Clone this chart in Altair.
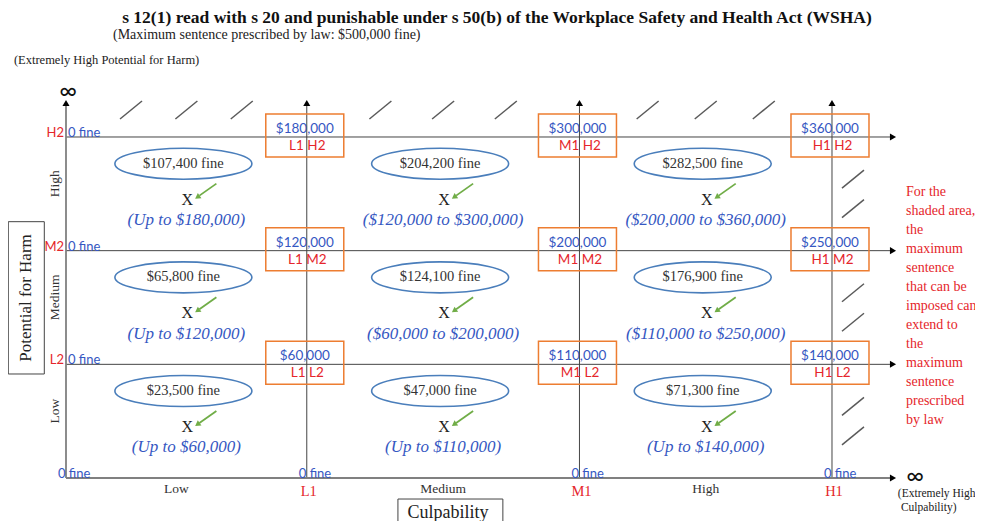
import altair as alt
import pandas as pd

# ------------------------------------------------------------------ data
culp_levels = ["Low", "Medium", "High"]
culp_marks = ["L1", "M1", "H1"]
harm_levels = ["Low", "Medium", "High"]          # bottom to top
harm_marks = ["L2", "M2", "H2"]

# rows = harm (Low, Medium, High), columns = culpability (Low, Medium, High)
indicative_fines = [
    [23500, 47000, 71300],
    [65800, 124100, 176900],
    [107400, 204200, 282500],
]
range_low = [
    [0, 0, 0],
    [0, 60000, 110000],
    [0, 120000, 200000],
]
range_high = [
    [60000, 110000, 140000],
    [120000, 200000, 250000],
    [180000, 300000, 360000],
]
box_tags = [
    ["L1  L2", "M1 L2", "H1 L2"],
    ["L1  M2", "M1  M2", "H1  M2"],
    ["L1  H2", "M1  H2", "H1  H2"],
]
title_text = "s 12(1) read with s 20 and punishable under s 50(b) of the Workplace Safety and Health Act (WSHA)"
subtitle_text = "(Maximum sentence prescribed by law: $500,000 fine)"
top_note = "(Extremely High Potential for Harm)"
corner_note = ["(Extremely High", "Culpability)"]
note_lines = ["For the", "shaded area,", "the", "maximum", "sentence", "that can be",
              "imposed can", "extend to", "the", "maximum", "sentence", "prescribed", "by law"]

# ------------------------------------------------------------------ layout
W, H = 967, 513
OX, OY = 58, 470          # origin of the grid inside the view (px)
U, V = 255.33, 113.67     # px per grid unit
culp_pos = [0.0, 0.943, 2.011, 3.0]   # origin, L1, M1, H1
harm_pos = [0.0, 1.0, 2.0, 3.0]       # origin, L2, M2, H2


def du(p):
    return p / U


def dv(p):
    return p / V


TOP = dv(OY - 95)
RIGHT = du(885 - OX)

xs = alt.Scale(domain=[-OX / U, (W - OX) / U], nice=False, zero=False)
ys = alt.Scale(domain=[-(H - OY) / V, OY / V], nice=False, zero=False)

SERIF = "Liberation Serif"
SANS = "Lato"
BLUE = "#3557C2"
RED = "#E5262B"
ORANGE = "#ED7D31"
GREEN = "#70AD47"


def XQ(f="x"):
    return alt.X(f, type="quantitative", scale=xs, axis=None)


def YQ(f="y"):
    return alt.Y(f, type="quantitative", scale=ys, axis=None)


def text(rows, **mk):
    df = pd.DataFrame(rows, columns=["x", "y", "text"])
    return alt.Chart(df).mark_text(**mk).encode(x=XQ(), y=YQ(), text="text:N")


def rules(rows, **mk):
    df = pd.DataFrame(rows, columns=["x", "x2", "y", "y2"])
    return alt.Chart(df).mark_rule(**mk).encode(x=XQ(), x2="x2", y=YQ(), y2="y2")


def rects(rows, **mk):
    df = pd.DataFrame(rows, columns=["x", "x2", "y", "y2"])
    return alt.Chart(df).mark_rect(**mk).encode(x=XQ(), x2="x2", y=YQ(), y2="y2")


def points(rows, **mk):
    df = pd.DataFrame(rows, columns=["x", "y"])
    return alt.Chart(df).mark_point(**mk).encode(x=XQ(), y=YQ())


layers = []

# shading hatches
hatch = []
for c in range(3):
    a, b = culp_pos[c], culp_pos[c + 1]
    for f in (0.27, 0.5, 0.73):
        cx, cy = a + f * (b - a), dv(OY - 102)
        hatch.append((cx - du(11), cx + du(11), cy - dv(9), cy + dv(9)))
for k in range(3):
    for f in (0.37, 0.63):
        cx, cy = culp_pos[3] + du(21), harm_pos[k] + f * (harm_pos[k + 1] - harm_pos[k])
        hatch.append((cx - du(11), cx + du(11), cy - dv(9), cy + dv(9)))
layers.append(rules(hatch, color="#5a5a5a", strokeWidth=1.5))

# grid lines
layers.append(rules([(culp_pos[i], culp_pos[i], 0, TOP) for i in range(1, 4)]
                    + [(0, RIGHT, harm_pos[j], harm_pos[j]) for j in range(1, 4)],
                    color="#454545", strokeWidth=1))
layers.append(rules([(0, 0, 0, TOP), (0, RIGHT, 0, 0)], color="#808080", strokeWidth=1.8))
layers.append(points([(culp_pos[i], TOP) for i in range(4)], shape="triangle-up",
                     filled=True, size=50, color="black", opacity=1))
layers.append(points([(RIGHT, harm_pos[j]) for j in range(4)], shape="triangle-right",
                     filled=True, size=50, color="black", opacity=1))

# boxes at the intersections
box_rows, val_rows, tag_rows = [], [], []
for k in range(3):
    for c in range(3):
        bx, by = culp_pos[c + 1], harm_pos[k + 1]
        box_rows.append((bx - du(41), bx + du(37), by + dv(23), by - dv(20)))
        val_rows.append((bx - du(2), by + dv(8), f"${range_high[k][c]:,}"))
        tag_rows.append((bx + du(0.5), by - dv(9), box_tags[k][c]))
layers.append(rects(box_rows, fillOpacity=0, stroke=ORANGE, strokeWidth=1.5))
layers.append(text(val_rows, font=SANS, fontSize=13.5, color=BLUE, baseline="middle"))
layers.append(text(tag_rows, font=SANS, fontSize=13.5, color=RED, baseline="middle"))

# cells: ellipses, X, arrows, ranges
ELL = ("M -1 0 C -1 -0.125 -0.552 -0.226 0 -0.226 C 0.552 -0.226 1 -0.125 1 0 "
       "C 1 0.125 0.552 0.226 0 0.226 C -0.552 0.226 -1 0.125 -1 0 Z")
ell_rows, fine_rows, x_rows, arr_rows, head_rows, rng_rows = [], [], [], [], [], []
for k in range(3):
    for c in range(3):
        cx = (culp_pos[c] + culp_pos[c + 1]) / 2
        ey = harm_pos[k] + 0.765
        ell_rows.append((cx - du(3), ey))
        fine_rows.append((cx - du(3), ey, f"${indicative_fines[k][c]:,} fine"))
        xx, xy = cx + du(1), harm_pos[k] + 0.449
        x_rows.append((xx, xy, "X"))
        arr_rows.append((xx + du(29), xx + du(12), xy + dv(16), xy + dv(4)))
        head_rows.append((xx + du(10), xy + dv(2.5)))
        lo, hi = range_low[k][c], range_high[k][c]
        label = f"(Up to ${hi:,})" if lo == 0 else f"(${lo:,} to ${hi:,})"
        rng_rows.append((cx, harm_pos[k] + 0.27, label))
layers.append(points(ell_rows, shape=ELL, size=137 ** 2, filled=False, color="#4A7EBB",
                     strokeWidth=1.6, opacity=1))
layers.append(text(fine_rows, font=SERIF, fontSize=14.5, color="#333333", baseline="middle"))
layers.append(text(x_rows, font=SERIF, fontSize=16, color="#222222", baseline="middle"))
layers.append(rules(arr_rows, color=GREEN, strokeWidth=1.8))
layers.append(points(head_rows, shape="triangle-up", angle=235, filled=True, size=40,
                     color=GREEN, opacity=1))
layers.append(text(rng_rows, font=SERIF, fontSize=17, fontStyle="italic", color=BLUE,
                   baseline="middle"))

# axis labels
layers.append(text([(du(-2), harm_pos[k + 1] + dv(4), harm_marks[k]) for k in range(3)],
                   font=SANS, fontSize=13, color=RED, align="right"))
layers.append(text([(du(2), harm_pos[k + 1] + dv(4), "0 fine") for k in range(3)]
                   + [(culp_pos[i] - du(8), dv(4), "0 fine") for i in range(4)],
                   font=SANS, fontSize=13, color=BLUE, align="left"))
layers.append(text([((culp_pos[c] + culp_pos[c + 1]) / 2 - du(10 if c == 0 else 0), -dv(11),
                     culp_levels[c]) for c in range(3)],
                   font=SERIF, fontSize=13.5, color="#333333", baseline="middle"))
layers.append(text([(culp_pos[c + 1] + du(2), -dv(14), culp_marks[c]) for c in range(3)],
                   font=SERIF, fontSize=14.5, color=RED, baseline="middle"))
layers.append(text([(du(-11), (harm_pos[k] + harm_pos[k + 1]) / 2 + dv(10), harm_levels[k]) for k in range(3)],
                   font=SERIF, fontSize=13.5, color="#333333", baseline="middle", angle=270))

# axis title boxes
layers.append(rects([(-0.226, -0.085, 2.255, 0.915), (1.300, 1.711, -0.185, -0.60)],
                    fillOpacity=0, stroke="#444444", strokeWidth=1))
layers.append(text([(-0.157, 1.584, "Potential for Harm")], font=SERIF, fontSize=17,
                   color="#222222", baseline="middle", angle=270))
layers.append(text([(1.496, -0.308, "Culpability")], font=SERIF, fontSize=18,
                   color="#222222", baseline="middle"))

# titles and notes
layers.append(text([(1.688, 4.047, title_text)], font=SERIF, fontSize=17.5, fontWeight="bold",
                   color="#111111", baseline="middle"))
layers.append(text([(0.184, 3.90, subtitle_text)], font=SERIF, fontSize=14,
                   color="#222222", baseline="middle", align="left"))
layers.append(text([(-0.204, 3.677, top_note)],
                   font=SERIF, fontSize=12.5, color="#222222", baseline="middle", align="left"))
layers.append(text([(3.258, -0.141, corner_note[0]), (3.27, -0.264, corner_note[1])],
                   font=SERIF, fontSize=11.5, color="#222222", baseline="middle", align="left"))
layers.append(text([(du(2), dv(OY - 84), "∞"), (du(849), 0.009, "∞")], font=SANS,
                   fontSize=24, color="#111111", baseline="middle"))
layers.append(text([(3.29, 2.519 - i * dv(19), s) for i, s in enumerate(note_lines)],
                   font=SERIF, fontSize=14, color=RED, baseline="middle", align="left"))

chart = alt.layer(*layers).properties(
    width=W, height=H, padding=0, autosize=alt.AutoSizeParams(type="none")
).configure_view(stroke=None)

chart.save("out.html", embed_options={"renderer": "svg", "actions": False})
